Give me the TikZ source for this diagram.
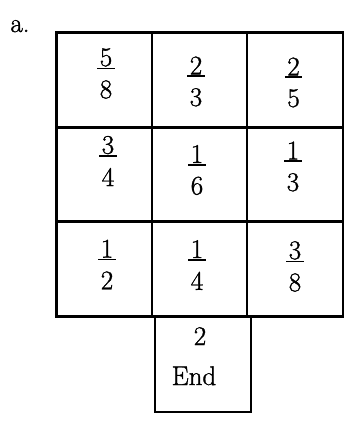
\documentclass[tikz,border=0pt]{standalone}
\usepackage{fontspec}
\setmainfont{Latin Modern Roman}[FakeBold=1.2]
\newcommand\myfr[2]{\vbox{\halign{\hfil\kern2.5pt##\kern2.5pt\hfil\cr #1\cr\noalign{\kern1pt\hrule height 1.8pt\kern11pt}#2\cr}}}
\tikzset{
  cell/.style={draw=black, line width=2.8pt, minimum width=#1, minimum height=95pt, inner sep=0pt},
  txt/.style={font=\fontsize{27}{32}\selectfont, inner sep=0pt},
}
\begin{document}
\begin{tikzpicture}[x=1pt,y=-1pt]
\useasboundingbox (0,0) rectangle (352,423);
% grid cells
\node[cell=95.5pt] (c11) at (104.25,80) {};
\node[cell=95pt]   (c12) at (199.5,80) {};
\node[cell=96pt]   (c13) at (295,80) {};
\node[cell=95.5pt] (c21) at (104.25,174.5) {};
\node[cell=95pt]   (c22) at (199.5,174.5) {};
\node[cell=96pt]   (c23) at (295,174.5) {};
\node[cell=95.5pt] (c31) at (104.25,269) {};
\node[cell=95pt]   (c32) at (199.5,269) {};
\node[cell=96pt]   (c33) at (295,269) {};
\node[cell=96pt]   (c4)  at (203,364.5) {};
% label
\node[txt, anchor=base] (lbl) at (20,32) {a.};
% fractions
\node[txt] (f11) at (106,73.5) {\myfr{5}{8}};
\node[txt] (f12) at (196,81.5) {\myfr{2}{3}};
\node[txt] (f13) at (293.5,82.5) {\myfr{2}{5}};
\node[txt] (f21) at (108,161) {\myfr{3}{4}};
\node[txt] (f22) at (197,170) {\myfr{1}{6}};
\node[txt] (f23) at (293,166.5) {\myfr{1}{3}};
\node[txt] (f31) at (107,264.5) {\myfr{1}{2}};
\node[txt] (f32) at (197,265) {\myfr{1}{4}};
\node[txt] (f33) at (295,266.5) {\myfr{3}{8}};
% end box
\node[txt, anchor=base] (two) at (200,345) {2};
\node[txt, anchor=base] (end) at (194,385) {End};
\end{tikzpicture}
\end{document}
